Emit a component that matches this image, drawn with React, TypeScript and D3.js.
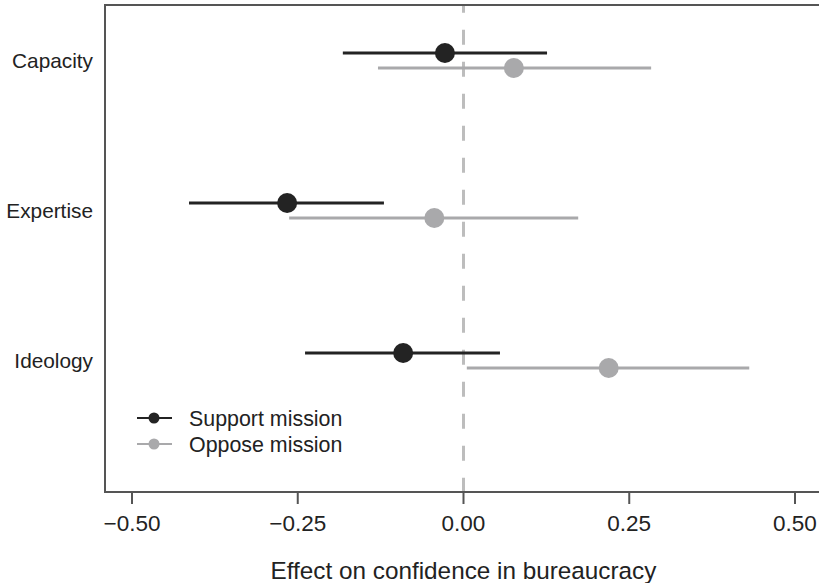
import React from "react";
import * as d3 from "d3";

const categories = ["Capacity", "Expertise", "Ideology"];
const supportEst = [-0.028, -0.266, -0.091];
const supportLo = [-0.182, -0.414, -0.239];
const supportHi = [0.126, -0.12, 0.055];
const opposeEst = [0.076, -0.044, 0.219];
const opposeLo = [-0.129, -0.263, 0.005];
const opposeHi = [0.283, 0.173, 0.431];
const xTicks = [-0.5, -0.25, 0, 0.25, 0.5];
const seriesNames = ["Support mission", "Oppose mission"];

const W = 819;
const H = 583;
const left = 105;
const top = 5;
const bottom = 492;
const right = 840;
const font = "'Liberation Sans', Arial, Helvetica, sans-serif";
const black = "#232323";
const gray = "#a9a9ab";
const axisCol = "#555";
const textCol = "#222";

export default function App() {
  const x = d3.scaleLinear().domain([-0.5, 0.5]).range([132, 795]);
  const y = d3.scalePoint<string>().domain(categories).range([60.5, 360.5]);
  const fmt = (v: number) => d3.format(".2f")(v).replace("-", "\u2212");
  const series = [
    { name: seriesNames[0], est: supportEst, lo: supportLo, hi: supportHi, color: black, dy: -7.5 },
    { name: seriesNames[1], est: opposeEst, lo: opposeLo, hi: opposeHi, color: gray, dy: 7.5 },
  ];
  return (
    <svg width={W} height={H} style={{ position: "absolute", left: 0, top: 0, background: "#fff" }}>
      <rect x={0} y={0} width={W} height={H} fill="#fff" />
      <line x1={x(0)} x2={x(0)} y1={top} y2={bottom} stroke="#bdbdbd" strokeWidth={3} strokeDasharray="15,17" strokeDashoffset={7.3} />
      {series.map((s, si) => (
        <g key={si}>
          {categories.map((c, i) => {
            const cy = (y(c) as number) + s.dy;
            return (
              <g key={c}>
                <line x1={x(s.lo[i])} x2={x(s.hi[i])} y1={cy} y2={cy} stroke={s.color} strokeWidth={3} />
                <circle cx={x(s.est[i])} cy={cy} r={10} fill={s.color} />
              </g>
            );
          })}
        </g>
      ))}
      <path d={`M${right},${top}H${left}V${bottom}H${right}`} fill="none" stroke={axisCol} strokeWidth={2} />
      {xTicks.map((t) => (
        <g key={t}>
          <line x1={x(t)} x2={x(t)} y1={bottom} y2={bottom + 12} stroke={axisCol} strokeWidth={2} />
          <text x={x(t)} y={531} textAnchor="middle" fontFamily={font} fontSize={22.5} fill={textCol}>
            {fmt(t)}
          </text>
        </g>
      ))}
      <text x={x(0)} y={579} textAnchor="middle" fontFamily={font} fontSize={24.3} fill={textCol}>
        Effect on confidence in bureaucracy
      </text>
      {categories.map((c) => (
        <text key={c} x={93} y={(y(c) as number) + 7.3} textAnchor="end" fontFamily={font} fontSize={20.8} fill={textCol}>
          {c}
        </text>
      ))}
      {series.map((s, i) => {
        const ly = 418 + i * 26;
        return (
          <g key={s.name}>
            <line x1={137} x2={172} y1={ly} y2={ly} stroke={s.color} strokeWidth={2} />
            <circle cx={154} cy={ly} r={5.5} fill={s.color} />
            <text x={189} y={ly + 7.5} fontFamily={font} fontSize={21.4} fill={textCol}>
              {s.name}
            </text>
          </g>
        );
      })}
    </svg>
  );
}
